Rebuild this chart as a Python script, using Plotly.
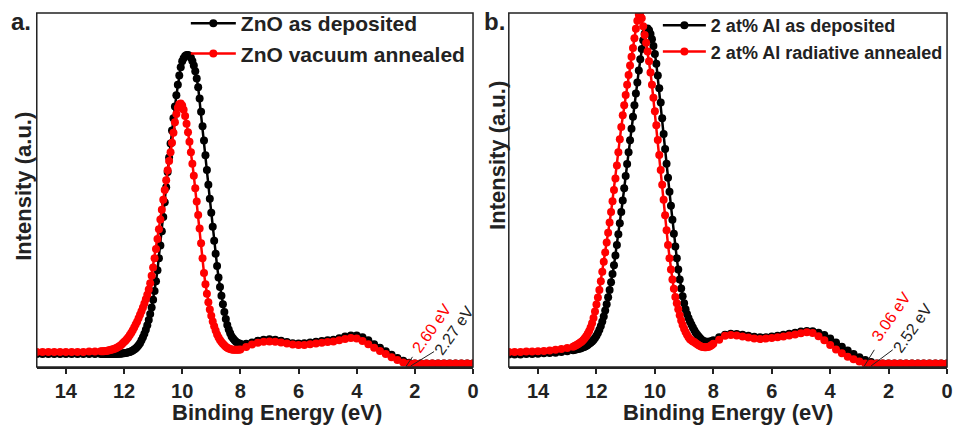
import numpy as np
import plotly.graph_objects as go

# Binding-energy sampling grid (eV): coarse at the flat parts, fine across the main peak
energy = np.round(np.concatenate([
    np.arange(0.0, 7.81, 0.2),
    np.arange(8.0, 12.801, 0.05),
    np.arange(13.0, 15.001, 0.2),
]), 2)

# ---------------- panel a ----------------
zno_dep_low = [0, 0, 0, 0, 0, 0, 0, 0, 0, 0, 0,
               0.002, 0.008, 0.016, 0.025, 0.035, 0.045, 0.055, 0.066, 0.075, 0.08,
               0.08, 0.077, 0.072, 0.068, 0.066, 0.064, 0.062, 0.06, 0.058, 0.057,
               0.058, 0.061, 0.065, 0.068, 0.069, 0.068, 0.065, 0.06, 0.056]
zno_dep_mid = [0.056, 0.057, 0.059, 0.062, 0.066, 0.071, 0.077, 0.086, 0.097, 0.11,
               0.127, 0.147, 0.169, 0.193, 0.218, 0.245, 0.278, 0.313, 0.35, 0.39,
               0.43, 0.47, 0.51, 0.552, 0.594, 0.636, 0.677, 0.718, 0.756, 0.788,
               0.813, 0.834, 0.85, 0.863, 0.872, 0.878, 0.88, 0.88, 0.877, 0.871,
               0.862, 0.845, 0.822, 0.795, 0.765, 0.733, 0.7, 0.665, 0.628, 0.588,
               0.546, 0.503, 0.46, 0.418, 0.377, 0.337, 0.3, 0.266, 0.235, 0.207,
               0.182, 0.16, 0.141, 0.124, 0.109, 0.096, 0.085, 0.075, 0.066, 0.058,
               0.052, 0.047, 0.043, 0.04, 0.037, 0.035, 0.033, 0.032, 0.031, 0.03,
               0.029, 0.029, 0.028, 0.028, 0.028, 0.027, 0.027, 0.027, 0.027, 0.027,
               0.027, 0.027, 0.027, 0.027, 0.027, 0.027, 0.027]
zno_dep_high = [0.027, 0.027, 0.027, 0.027, 0.027, 0.027, 0.027, 0.027, 0.027, 0.027, 0.027]

zno_ann_low = [0, 0, 0, 0, 0, 0, 0, 0, 0, 0, 0, 0,
               0.003, 0.01, 0.018, 0.027, 0.036, 0.045, 0.055, 0.064, 0.071, 0.073,
               0.07, 0.066, 0.063, 0.061, 0.059, 0.057, 0.055, 0.053, 0.053, 0.054,
               0.057, 0.06, 0.062, 0.063, 0.062, 0.059, 0.054, 0.047]
zno_ann_mid = [0.04, 0.039, 0.039, 0.039, 0.039, 0.039, 0.04, 0.041, 0.043, 0.045,
               0.048, 0.052, 0.056, 0.061, 0.067, 0.074, 0.083, 0.094, 0.106, 0.12,
               0.136, 0.154, 0.175, 0.199, 0.226, 0.258, 0.3, 0.343, 0.385, 0.424,
               0.462, 0.5, 0.536, 0.57, 0.603, 0.633, 0.66, 0.684, 0.706, 0.724,
               0.736, 0.742, 0.74, 0.73, 0.712, 0.688, 0.658, 0.63, 0.603, 0.578,
               0.551, 0.523, 0.495, 0.467, 0.439, 0.411, 0.383, 0.355, 0.327, 0.3,
               0.274, 0.25, 0.229, 0.211, 0.196, 0.183, 0.171, 0.16, 0.149, 0.139,
               0.129, 0.119, 0.111, 0.103, 0.095, 0.088, 0.081, 0.075, 0.07, 0.065,
               0.061, 0.057, 0.053, 0.05, 0.047, 0.045, 0.043, 0.041, 0.04, 0.039,
               0.038, 0.037, 0.036, 0.036, 0.035, 0.035, 0.035]
zno_ann_high = [0.034, 0.034, 0.033, 0.033, 0.033, 0.033, 0.033, 0.033, 0.033, 0.033, 0.033]

# ---------------- panel b ----------------
al_dep_low = [0, 0, 0, 0, 0, 0, 0, 0, 0, 0, 0, 0, 0,
              0.004, 0.01, 0.018, 0.027, 0.037, 0.048, 0.06, 0.071, 0.081, 0.088,
              0.092, 0.093, 0.091, 0.088, 0.085, 0.082, 0.079, 0.077, 0.075, 0.075,
              0.076, 0.079, 0.082, 0.084, 0.085, 0.082, 0.075]
al_dep_mid = [0.066, 0.064, 0.063, 0.062, 0.062, 0.062, 0.063, 0.065, 0.068, 0.072,
              0.077, 0.082, 0.088, 0.095, 0.103, 0.111, 0.12, 0.13, 0.141, 0.155,
              0.172, 0.192, 0.214, 0.24, 0.268, 0.3, 0.334, 0.37, 0.41, 0.45,
              0.49, 0.53, 0.57, 0.612, 0.655, 0.7, 0.745, 0.785, 0.822, 0.855,
              0.883, 0.906, 0.925, 0.94, 0.951, 0.956, 0.952, 0.941, 0.922, 0.897,
              0.868, 0.836, 0.802, 0.77, 0.737, 0.704, 0.67, 0.637, 0.603, 0.569,
              0.535, 0.5, 0.465, 0.432, 0.4, 0.369, 0.338, 0.308, 0.28, 0.255,
              0.232, 0.21, 0.189, 0.169, 0.151, 0.134, 0.12, 0.107, 0.096, 0.087,
              0.079, 0.073, 0.067, 0.063, 0.059, 0.056, 0.053, 0.05, 0.048, 0.046,
              0.045, 0.043, 0.042, 0.041, 0.04, 0.039, 0.038]
al_dep_high = [0.035, 0.033, 0.031, 0.03, 0.029, 0.028, 0.027, 0.027, 0.026, 0.026, 0.026]

al_ann_low = [0, 0, 0, 0, 0, 0, 0, 0, 0, 0, 0, 0, 0, 0, 0,
              0.006, 0.012, 0.019, 0.029, 0.04, 0.053, 0.066, 0.078, 0.087, 0.089,
              0.086, 0.083, 0.08, 0.077, 0.075, 0.073, 0.071, 0.07, 0.071, 0.074,
              0.077, 0.08, 0.081, 0.079, 0.068]
al_ann_mid = [0.056, 0.053, 0.05, 0.048, 0.047, 0.046, 0.046, 0.047, 0.048, 0.05,
              0.052, 0.055, 0.058, 0.061, 0.063, 0.066, 0.069, 0.075, 0.082, 0.09,
              0.099, 0.11, 0.123, 0.138, 0.155, 0.172, 0.19, 0.213, 0.24, 0.268,
              0.3, 0.338, 0.38, 0.423, 0.467, 0.51, 0.552, 0.595, 0.638, 0.68,
              0.72, 0.758, 0.795, 0.83, 0.862, 0.89, 0.915, 0.937, 0.962, 0.985,
              1.0, 0.995, 0.978, 0.955, 0.928, 0.9, 0.875, 0.85, 0.823, 0.795,
              0.766, 0.737, 0.708, 0.675, 0.64, 0.603, 0.565, 0.528, 0.495, 0.463,
              0.432, 0.402, 0.373, 0.345, 0.317, 0.29, 0.262, 0.235, 0.21, 0.188,
              0.168, 0.148, 0.13, 0.115, 0.103, 0.093, 0.085, 0.078, 0.072, 0.067,
              0.063, 0.06, 0.057, 0.054, 0.052, 0.05, 0.048]
al_ann_high = [0.044, 0.041, 0.039, 0.037, 0.036, 0.035, 0.034, 0.034, 0.033, 0.033, 0.033]

zno_dep = zno_dep_low + zno_dep_mid + zno_dep_high
zno_ann = zno_ann_low + zno_ann_mid + zno_ann_high
al_dep = al_dep_low + al_dep_mid + al_dep_high
al_ann = al_ann_low + al_ann_mid + al_ann_high
for s in (zno_dep, zno_ann, al_dep, al_ann):
    assert len(s) == len(energy), (len(s), len(energy))

names_a = ["ZnO as deposited", "ZnO vacuum annealed"]
names_b = ["2 at% Al as deposited", "2 at% Al radiative annealed"]
tick_vals = [14, 12, 10, 8, 6, 4, 2, 0]
tick_text = ["14", "12", "10", "8", "6", "4", "2", "0"]
onset_a = ["2.60 eV", "2.27 eV"]
onset_b = ["3.06 eV", "2.52 eV"]

BLACK = "#000000"
RED = "#ff0000"
FONT = "Arial, Liberation Sans, sans-serif"

fig = go.Figure()


def add(x, y, name, color, xa, ya, legend):
    fig.add_trace(go.Scatter(
        x=x, y=y, name=name, mode="lines+markers",
        line=dict(color=color, width=2.5),
        marker=dict(color=color, size=8, symbol="circle"),
        xaxis=xa, yaxis=ya, legend=legend,
    ))


add(energy, zno_dep, names_a[0], BLACK, "x", "y", "legend")
add(energy, zno_ann, names_a[1], RED, "x", "y", "legend")
add(energy, al_dep, names_b[0], BLACK, "x2", "y2", "legend2")
add(energy, al_ann, names_b[1], RED, "x2", "y2", "legend2")

W, H = 960, 429
dom_a = [37 / W, 476 / W]
dom_b = [512 / W, 953 / W]
dom_y = [1 - 367 / H, 1 - 13 / H]

xcommon = dict(range=[15, 0], tickmode="array", tickvals=tick_vals, ticktext=tick_text,
               ticks="outside", ticklen=5, tickwidth=1.5, tickcolor="#222",
               showline=True, linecolor="#222", linewidth=1.5, showgrid=False,
               zeroline=False,
               tickfont=dict(family=FONT, size=20, color="#222", weight="bold"))
ycommon = dict(range=[-0.01, 1.0], showticklabels=False, ticks="", showgrid=False,
               zeroline=False, showline=False)

fig.update_layout(
    width=W, height=H,
    margin=dict(l=0, r=0, t=0, b=0),
    paper_bgcolor="white", plot_bgcolor="white",
    xaxis=dict(domain=dom_a, anchor="y", **xcommon),
    yaxis=dict(domain=dom_y, anchor="x", **ycommon),
    xaxis2=dict(domain=dom_b, anchor="y2", **xcommon),
    yaxis2=dict(domain=dom_y, anchor="x2", **ycommon),
    legend=dict(x=187 / W, y=1 - 3 / H, xanchor="left", yanchor="top",
                bgcolor="rgba(0,0,0,0)", itemwidth=45, tracegroupgap=0,
                font=dict(family=FONT, size=21, color="#222", weight="bold")),
    legend2=dict(x=662 / W, y=1 - 7 / H, xanchor="left", yanchor="top",
                 bgcolor="rgba(0,0,0,0)", itemwidth=43, tracegroupgap=0,
                 font=dict(family=FONT, size=18, color="#222", weight="bold")),
    showlegend=True,
)

# panel frames
for xr, yr in (("x", "y"), ("x2", "y2")):
    fig.add_shape(type="rect", xref=f"{xr} domain", yref=f"{yr} domain",
                  x0=0, x1=1, y0=0, y1=1, line=dict(color="#222", width=1.5), layer="above")

# onset leader lines
leaders = [("x", "y", 2.31, -0.009, 2.08, 0.019), ("x", "y", 2.14, -0.007, 1.34, 0.034),
           ("x2", "y2", 2.83, -0.007, 2.49, 0.039), ("x2", "y2", 2.6, -0.007, 1.86, 0.039)]
for xr, yr, x0, y0, x1, y1 in leaders:
    fig.add_shape(type="line", xref=xr, yref=yr, x0=x0, y0=y0, x1=x1, y1=y1,
                  line=dict(color="#222", width=1))

onset_labels = [("x", "y", 1.43, 0.1, onset_a[0], RED), ("x", "y", 0.66, 0.095, onset_a[1], "#222"),
                ("x2", "y2", 1.92, 0.135, onset_b[0], RED), ("x2", "y2", 1.19, 0.1, onset_b[1], "#222")]
for xr, yr, x, y, t, c in onset_labels:
    fig.add_annotation(x=x, y=y, xref=xr, yref=yr, text=t, showarrow=False, textangle=-55,
                       xanchor="center", yanchor="middle",
                       font=dict(family=FONT, size=16, color=c))

# axis titles and panel letters
for x, y, t, ang, size in [(279, 412, "Binding Energy (eV)", 0, 22),
                           (733, 412, "Binding Energy (eV)", 0, 22),
                           (23, 186, "Intensity (a.u.)", -90, 22),
                           (500, 155, "Intensity (a.u.)", -90, 22),
                           (21, 21, "a.", 0, 24),
                           (498, 21, "b.", 0, 24)]:
    fig.add_annotation(x=x / W, y=1 - y / H, xref="paper", yref="paper", text=t,
                       showarrow=False, textangle=ang, xanchor="center", yanchor="middle",
                       font=dict(family=FONT, size=size, color="#222", weight="bold"))

fig.write_html("out.html")
